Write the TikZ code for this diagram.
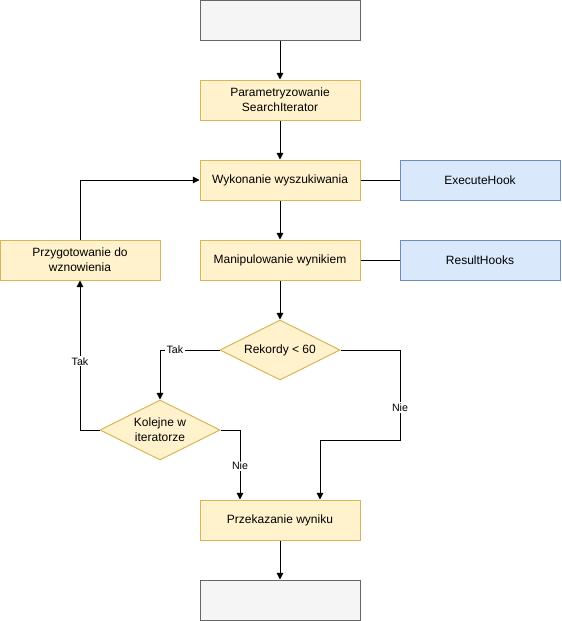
\documentclass[tikz,border=0pt]{standalone}
\usepackage{fontspec}
\setmainfont{Liberation Sans}
\usetikzlibrary{arrows.meta,shapes.geometric}

\definecolor{yelfill}{HTML}{FFF2CC}
\definecolor{yeldraw}{HTML}{D6B656}
\definecolor{bluefill}{HTML}{DAE8FC}
\definecolor{bluedraw}{HTML}{6C8EBF}
\definecolor{greyfill}{HTML}{F5F5F5}
\definecolor{greydraw}{HTML}{666666}

\tikzset{
  box/.style = {draw = #1draw, fill = #1fill, minimum width = 120pt, minimum height = 30pt,
                align = center, font = \fontsize{9}{11}\selectfont, line width = 0.75pt},
  cond/.style = {diamond, aspect = 2, draw = yeldraw, fill = yelfill, minimum width = 90pt,
                 minimum height = 45pt, inner sep = 0pt, align = center,
                 font = \fontsize{9}{11}\selectfont, line width = 0.75pt},
  arr/.style = {-{Triangle[length = 5pt, width = 5pt]}, line width = 0.75pt},
  link/.style = {line width = 0.75pt},
  lab/.style = {fill = white, inner sep = 1pt, font = \fontsize{8}{9}\selectfont}
}

\begin{document}
\begin{tikzpicture}[x = 0.75pt, y = -0.75pt]
    \useasboundingbox (0,0) rectangle (561,621);
    \node [box = grey] (start) at (280,20) {};
    \node [box = yel] (param) at (280,100) {Parametryzowanie\\SearchIterator};
    \node [box = yel] (exec) at (280,180) {Wykonanie wyszukiwania};
    \node [box = blue] (exhook) at (480,180) {ExecuteHook};
    \node [box = yel] (prep) at (80,260) {Przygotowanie do\\wznowienia};
    \node [box = yel] (manip) at (280,260) {Manipulowanie wynikiem};
    \node [box = blue] (reshook) at (480,260) {ResultHooks};
    \node [cond] (rek) at (280,350) {Rekordy < 60};
    \node [cond] (kol) at (160,430) {Kolejne w\\iteratorze};
    \node [box = yel] (out) at (280,520) {Przekazanie wyniku};
    \node [box = grey] (stop) at (280,600) {};

    \draw [arr] (start) -- (param);
    \draw [arr] (param) -- (exec);
    \draw [link] (exec) -- (exhook);
    \draw [arr] (exec) -- (manip);
    \draw [link] (manip) -- (reshook);
    \draw [arr] (manip) -- (rek);
    \draw [arr] (rek.west) -| node [lab, pos = 0.375] {Tak} (kol.north);
    \draw [arr] (rek.east) -| node [lab, pos = 0.82] {Nie} (400,440) -| ([xshift = 30pt]out.north);
    \draw [arr] (kol.east) -| node [lab, pos = 0.76] {Nie} ([xshift = -30pt]out.north);
    \draw [arr] (kol.west) -| node [lab, pos = 0.73] {Tak} (prep.south);
    \draw [arr] (prep.north) |- (exec.west);
    \draw [arr] (out) -- (stop);
\end{tikzpicture}
\end{document}
